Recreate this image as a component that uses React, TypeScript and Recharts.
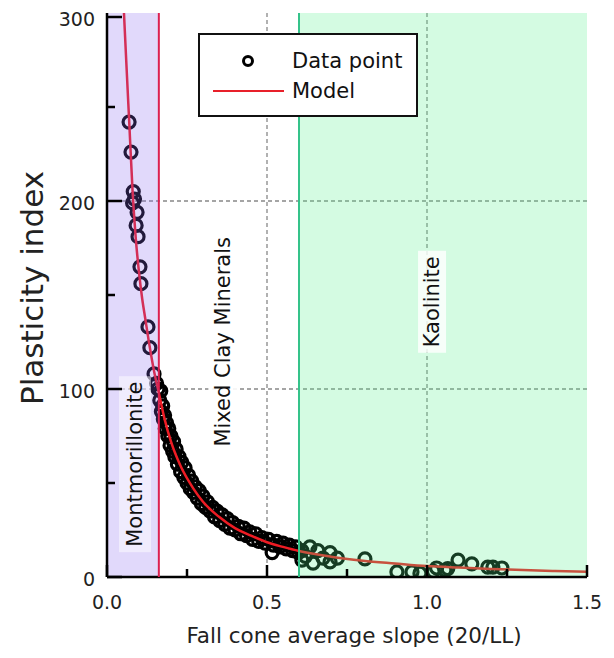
import React from 'react';
import {
  ComposedChart,
  Scatter,
  Line,
  XAxis,
  YAxis,
  ReferenceArea,
  ReferenceLine,
  Legend,
} from 'recharts';

const FONT = '"DejaVu Sans", Verdana, sans-serif';

// axis ticks
const xTicks = [0, 0.25, 0.5, 0.75, 1, 1.25, 1.5];
const xLabels = [0, 0.5, 1, 1.5];
const yTicks = [0, 50, 100, 150, 200, 250, 300];
const yLabels = [0, 100, 200, 300];

// mineral zone boundaries (fall cone slope)
const montLimit = 0.162;
const kaolLimit = 0.6;

// measured points, montmorillonite zone
const montSlope = [0.069, 0.075, 0.082, 0.08, 0.086, 0.091, 0.094, 0.097, 0.103, 0.106, 0.128, 0.134, 0.147, 0.155, 0.159];
const montPI = [242, 226, 205, 199, 201, 187, 194, 181, 165, 156, 133, 122, 108, 103, 100];

// measured points, mixed clay minerals zone
const mixedSlope = [
  0.165, 0.168, 0.17, 0.174, 0.176, 0.18, 0.182, 0.186, 0.19, 0.193, 0.197, 0.2, 0.205, 0.208,
  0.212, 0.216, 0.22, 0.225, 0.23, 0.234, 0.24, 0.244, 0.25, 0.255, 0.26, 0.265, 0.27, 0.276,
  0.282, 0.288, 0.295, 0.3, 0.308, 0.314, 0.322, 0.33, 0.336, 0.344, 0.352, 0.36, 0.368, 0.376,
  0.384, 0.392, 0.4, 0.41, 0.418, 0.428, 0.436, 0.446, 0.455, 0.465, 0.474, 0.484, 0.494, 0.505,
  0.516, 0.52, 0.53, 0.54, 0.55, 0.56, 0.57, 0.58, 0.59, 0.598,
];
const mixedPI = [
  94, 99, 88, 91, 84, 86, 79, 82, 75, 79, 70, 75, 67, 72,
  64, 68, 60, 64, 56, 61, 53, 58, 50, 54, 47, 51, 45, 48,
  42, 46, 39, 43, 37, 40, 35, 37, 32, 35, 30, 33, 28, 31,
  26, 29, 25, 27, 23, 26, 22, 24, 20, 23, 19, 21, 18, 20,
  13, 17, 19, 16, 18, 15, 17, 14, 16, 13,
];

// measured points, kaolinite zone
const kaolSlope = [0.609, 0.62, 0.634, 0.644, 0.659, 0.675, 0.697, 0.697, 0.609, 0.72, 0.806, 0.906, 0.953, 0.978, 1.02, 1.03, 1.056, 1.065, 1.097, 1.14, 1.19, 1.206, 1.234];
const kaolPI = [14, 11, 16, 7.4, 14, 10, 13, 8, 9, 10, 9.6, 2.7, 2.7, 2, 3, 4.8, 3.7, 4.5, 9, 7, 5.3, 5.3, 4.8];

// fitted model curve
const modelSlope = [0.053, 0.06, 0.07, 0.08, 0.09, 0.1, 0.11, 0.12, 0.13, 0.14, 0.15, 0.162, 0.18, 0.2, 0.23, 0.27, 0.3, 0.35, 0.4, 0.45, 0.5, 0.55, 0.6, 0.7, 0.8, 0.9, 1.0, 1.1, 1.2, 1.3, 1.4, 1.5];
const modelPI = [300, 275, 240, 205, 180, 162, 148, 137, 126, 116, 107, 98, 84, 72, 59, 47, 40, 32, 26, 22, 18.5, 16, 13.8, 10.8, 8.7, 7.2, 5.8, 5.0, 4.3, 3.7, 3.2, 2.8];

const points = [
  ...montSlope.map((s, i) => ({ s, pi: montPI[i] })),
  ...mixedSlope.map((s, i) => ({ s, pi: mixedPI[i] })),
  ...kaolSlope.map((s, i) => ({ s, pi: kaolPI[i] })),
];
const model = modelSlope.map((s, i) => ({ s, pi: modelPI[i] }));

const Ring = (props: any) => (
  <circle cx={props.cx} cy={props.cy} r={6} fill="none" stroke="#000" strokeWidth={3.2} />
);

const BottomTick = ({ x, y, payload }: any) => {
  const major = xLabels.includes(payload.value);
  return (
    <g>
      <line x1={x} y1={y} x2={x} y2={y - (major ? 12 : 8)} stroke="#000" strokeWidth={2.5} />
      {major && (
        <text x={x} y={y + 32} textAnchor="middle" fontSize={19} fontFamily={FONT} fill="#222">
          {payload.value.toFixed(1)}
        </text>
      )}
    </g>
  );
};

const TopTick = ({ x, y, payload }: any) => {
  const major = xLabels.includes(payload.value);
  return <line x1={x} y1={y} x2={x} y2={y + (major ? 14 : 8)} stroke="#000" strokeWidth={2.5} />;
};

const LeftTick = ({ x, y, payload }: any) => {
  const major = yLabels.includes(payload.value);
  return (
    <g>
      <line x1={x} y1={y} x2={x + (major ? 15 : 8)} y2={y} stroke="#000" strokeWidth={2.5} />
      {major && (
        <text x={x - 12} y={y + 9} textAnchor="end" fontSize={19} fontFamily={FONT} fill="#222">
          {payload.value}
        </text>
      )}
    </g>
  );
};

const RightTick = ({ x, y, payload }: any) => {
  const major = yLabels.includes(payload.value);
  return <line x1={x} y1={y} x2={x - (major ? 15 : 8)} y2={y} stroke="#000" strokeWidth={2.5} />;
};

const regionLabel = (text: string, fx: number, fy: number, boxW: number, boxH: number, opacity: number) =>
  (props: any) => {
    const { x, y, width, height } = props.viewBox;
    const cx = x + width * fx;
    const cy = y + height * fy;
    return (
      <g>
        <rect x={cx - boxW / 2} y={cy - boxH / 2} width={boxW} height={boxH} fill="#fff" fillOpacity={opacity} />
        <text
          x={cx}
          y={cy}
          transform={`rotate(-90 ${cx} ${cy})`}
          textAnchor="middle"
          dominantBaseline="central"
          fontSize={21}
          fontFamily={FONT}
          fill="#111"
        >
          {text}
        </text>
      </g>
    );
  };

const LegendBox = ({ payload }: any) => (
  <div
    style={{
      width: 220,
      height: 84,
      boxSizing: 'border-box',
      border: '2px solid #111',
      background: '#fff',
      fontFamily: FONT,
      fontSize: 21,
      color: '#111',
      paddingTop: 11,
    }}
  >
    {(payload || []).map((entry: any) => (
      <div key={entry.value} style={{ display: 'flex', alignItems: 'center', height: 30 }}>
        <svg width={92} height={20} style={{ flex: 'none' }}>
          {entry.type === 'line' ? (
            <line x1={13} x2={84} y1={10} y2={10} stroke="#e8202a" strokeWidth={2} />
          ) : (
            <circle cx={48} cy={10} r={4.5} fill="none" stroke="#000" strokeWidth={3} />
          )}
        </svg>
        <span style={{ lineHeight: '30px' }}>{entry.value}</span>
      </div>
    ))}
  </div>
);

export default function App() {
  return (
    <ComposedChart width={600} height={640} margin={{ top: 5, right: 21, bottom: 31, left: 4 }}>
      <XAxis
        dataKey="s"
        type="number"
        domain={[0, 1.5]}
        ticks={xTicks}
        allowDataOverflow
        height={40}
        tickSize={0}
        tickMargin={0}
        tickLine={false}
        tick={BottomTick}
        axisLine={{ stroke: '#000', strokeWidth: 2.5 }}
        label={(p: any) => (
          <text
            x={p.viewBox.x + p.viewBox.width / 2 + 7}
            y={p.viewBox.y + 66}
            textAnchor="middle"
            fontSize={21.5}
            fontFamily={FONT}
            fill="#222"
          >
            Fall cone average slope (20/LL)
          </text>
        )}
      />
      <XAxis
        xAxisId="top"
        orientation="top"
        type="number"
        domain={[0, 1.5]}
        ticks={xTicks}
        allowDataOverflow
        height={0}
        tickSize={0}
        tickMargin={0}
        tickLine={false}
        tick={TopTick}
        axisLine={{ stroke: '#000', strokeWidth: 2.5 }}
      />
      <YAxis
        dataKey="pi"
        type="number"
        domain={[0, 300]}
        ticks={yTicks}
        allowDataOverflow
        width={95}
        tickSize={0}
        tickMargin={0}
        tickLine={false}
        tick={LeftTick}
        axisLine={{ stroke: '#000', strokeWidth: 2.5 }}
        label={(p: any) => {
          const cx = p.viewBox.x + 20;
          const cy = p.viewBox.y + p.viewBox.height / 2 - 7;
          return (
            <text
              x={cx}
              y={cy}
              transform={`rotate(-90 ${cx} ${cy})`}
              textAnchor="middle"
              dominantBaseline="central"
              fontSize={31}
              fontFamily={FONT}
              fill="#222"
            >
              Plasticity index
            </text>
          );
        }}
      />
      <YAxis
        yAxisId="right"
        orientation="right"
        type="number"
        domain={[0, 300]}
        ticks={yTicks}
        allowDataOverflow
        width={0}
        tickSize={0}
        tickMargin={0}
        tickLine={false}
        tick={RightTick}
        axisLine={{ stroke: '#000', strokeWidth: 2.5 }}
      />

      {[0.5, 1].map((v) => (
        <ReferenceLine key={`gx${v}`} x={v} stroke="#888" strokeDasharray="4 3" strokeWidth={1.3} zIndex={100} />
      ))}
      {[100, 200].map((v) => (
        <ReferenceLine key={`gy${v}`} y={v} stroke="#888" strokeDasharray="4 3" strokeWidth={1.3} zIndex={100} />
      ))}

      <Scatter
        name="Data point"
        data={points}
        dataKey="pi"
        legendType="circle"
        fill="#000"
        shape={Ring}
        isAnimationActive={false}
        zIndex={200}
      />
      <Line
        name="Model"
        data={model}
        dataKey="pi"
        type="monotone"
        stroke="#ee1c24"
        strokeWidth={2.5}
        dot={false}
        activeDot={false}
        legendType="line"
        isAnimationActive={false}
        zIndex={300}
      />

      <ReferenceArea x1={0} x2={montLimit} fill="#8866ee" fillOpacity={0.25} stroke="none" zIndex={400} />
      <ReferenceArea x1={kaolLimit} x2={1.5} fill="#55f08a" fillOpacity={0.25} stroke="none" zIndex={400} />
      <ReferenceLine x={montLimit} stroke="#dc2050" strokeWidth={2} zIndex={500} />
      <ReferenceLine x={kaolLimit} stroke="#35c38a" strokeWidth={2} zIndex={500} />

      <ReferenceArea
        x1={0}
        x2={montLimit}
        fill="none"
        stroke="none"
        zIndex={600}
        label={regionLabel('Montmorillonite', 0.54, 0.8, 32, 176, 0.5)}
      />
      <ReferenceArea
        x1={montLimit}
        x2={kaolLimit}
        fill="none"
        stroke="none"
        zIndex={600}
        label={regionLabel('Mixed Clay Minerals', 0.46, 0.583, 30, 226, 0.9)}
      />
      <ReferenceArea
        x1={kaolLimit}
        x2={1.5}
        fill="none"
        stroke="none"
        zIndex={600}
        label={regionLabel('Kaolinite', 0.462, 0.512, 28, 102, 0.8)}
      />

      <Legend
        layout="vertical"
        align="center"
        verticalAlign="middle"
        content={LegendBox}
        wrapperStyle={{ left: 190, top: 25, width: 220, height: 84 }}
      />
    </ComposedChart>
  );
}
